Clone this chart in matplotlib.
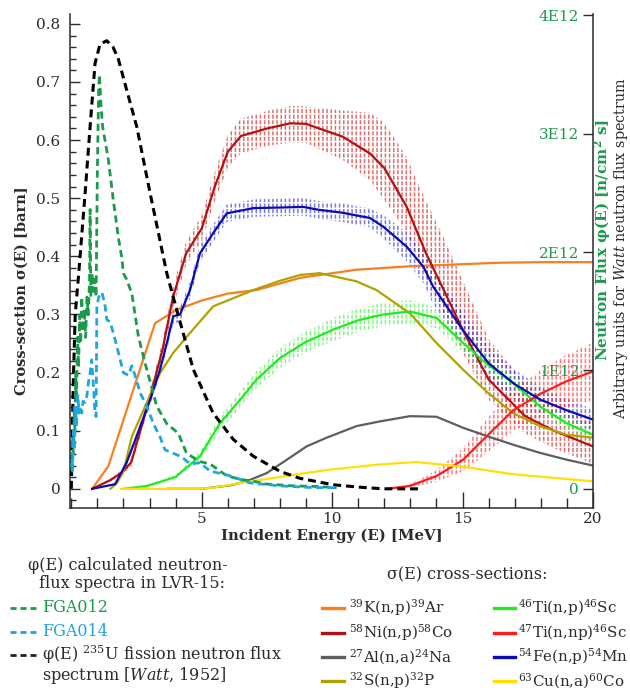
import matplotlib
matplotlib.use("Agg")
from matplotlib import pyplot as plt
from matplotlib.lines import Line2D
from matplotlib.ticker import MultipleLocator, FixedLocator

plt.rcParams["font.family"] = ["DejaVu Serif"]
plt.rcParams["mathtext.fontset"] = "dejavuserif"
plt.rcParams["hatch.linewidth"] = 1.1

# ---- cross-sections [barn] vs incident energy [MeV] ----
k39_e = [0.8, 1.42, 3.21, 4.04, 5.0, 6.0, 7.1, 8.77, 10.93, 13.0, 16.4, 18.0, 20.0]
k39_s = [0.0, 0.039, 0.285, 0.308, 0.324, 0.336, 0.342, 0.363, 0.377, 0.383, 0.389, 0.39, 0.39]

ni58_e = [0.8, 1.5, 2.0, 2.3, 3.0, 3.5, 3.9, 4.4, 5.0, 5.5, 6.0, 6.5, 7.5, 8.4, 9.0, 9.5,
          10.4, 11.45, 12.0, 12.85, 13.6, 14.3, 15.0, 16.0, 17.4, 18.5, 20.0]
ni58_s = [0.0, 0.015, 0.03, 0.046, 0.155, 0.24, 0.33, 0.405, 0.448, 0.52, 0.58, 0.607, 0.62,
          0.629, 0.628, 0.62, 0.606, 0.577, 0.552, 0.486, 0.405, 0.34, 0.274, 0.188, 0.125, 0.10, 0.073]
ni58_hi = [0.0, 0.018, 0.035, 0.054, 0.167, 0.255, 0.348, 0.425, 0.47, 0.545, 0.608, 0.637, 0.65,
           0.659, 0.658, 0.655, 0.651, 0.647, 0.63, 0.571, 0.495, 0.43, 0.359, 0.258, 0.18, 0.145, 0.113]
ni58_lo = [0.0, 0.012, 0.025, 0.038, 0.143, 0.225, 0.312, 0.385, 0.426, 0.495, 0.552, 0.577, 0.59,
           0.596, 0.595, 0.585, 0.566, 0.531, 0.497, 0.441, 0.365, 0.30, 0.234, 0.153, 0.095, 0.07, 0.043]

al27_e = [3.7, 5.0, 6.09, 6.72, 7.49, 8.26, 9.02, 9.79, 10.94, 11.83, 12.98, 14.0, 15.02, 15.98,
          17.0, 17.96, 19.0, 20.0]
al27_s = [0.0, 0.0, 0.006, 0.013, 0.027, 0.05, 0.073, 0.088, 0.108, 0.116, 0.125, 0.124, 0.105,
          0.09, 0.075, 0.062, 0.05, 0.04]

s32_e = [1.5, 1.75, 2.0, 2.32, 2.89, 3.4, 3.91, 4.49, 5.44, 6.98, 8.0, 8.77, 9.53, 10.93, 11.7,
         12.98, 14.0, 15.02, 15.98, 16.94, 17.96, 18.98, 20.0]
s32_s = [0.0, 0.01, 0.03, 0.09, 0.148, 0.199, 0.234, 0.265, 0.314, 0.342, 0.358, 0.368, 0.371,
         0.357, 0.342, 0.302, 0.251, 0.205, 0.165, 0.13, 0.108, 0.093, 0.088]

ti46_e = [2.0, 2.9, 3.98, 4.93, 5.7, 6.47, 7.1, 8.0, 8.96, 10.04, 11.0, 11.96, 12.98, 14.0,
          15.02, 15.9, 16.94, 17.96, 18.98, 20.0]
ti46_s = [0.0, 0.005, 0.02, 0.056, 0.113, 0.153, 0.188, 0.225, 0.252, 0.274, 0.29, 0.30, 0.305,
          0.294, 0.251, 0.216, 0.182, 0.142, 0.113, 0.093]
ti46_err = [0.0, 0.002, 0.004, 0.008, 0.012, 0.014, 0.015, 0.017, 0.018, 0.02, 0.02, 0.02, 0.02,
            0.018, 0.016, 0.014, 0.013, 0.012, 0.011, 0.01]

ti47_e = [12.09, 12.98, 14.0, 15.02, 15.98, 16.94, 17.96, 18.98, 20.0]
ti47_s = [0.0, 0.005, 0.022, 0.05, 0.093, 0.135, 0.163, 0.185, 0.202]
ti47_err = [0.0, 0.003, 0.01, 0.02, 0.03, 0.035, 0.04, 0.045, 0.05]

fe54_e = [0.8, 1.68, 2.12, 2.5, 3.02, 3.4, 3.66, 3.91, 4.17, 4.55, 4.93, 5.44, 5.96, 6.98, 8.0,
          8.9, 9.5, 10.4, 11.45, 11.96, 12.85, 13.5, 13.87, 15.0, 16.0, 17.0, 18.0, 19.0, 20.0]
fe54_s = [0.0, 0.008, 0.045, 0.09, 0.153, 0.205, 0.25, 0.297, 0.30, 0.342, 0.405, 0.44, 0.474,
          0.483, 0.484, 0.485, 0.48, 0.475, 0.466, 0.451, 0.417, 0.382, 0.348, 0.274, 0.216, 0.18,
          0.153, 0.135, 0.119]
fe54_err = [0.0, 0.002, 0.005, 0.007, 0.009, 0.01, 0.012, 0.013, 0.013, 0.014, 0.015, 0.015,
            0.015, 0.015, 0.015, 0.015, 0.015, 0.016, 0.016, 0.02, 0.025, 0.028, 0.03, 0.03,
            0.028, 0.025, 0.022, 0.02, 0.018]

cu63_e = [1.9, 4.93, 5.44, 6.47, 7.36, 8.64, 9.92, 11.83, 13.24, 15.02, 16.94, 20.0]
cu63_s = [0.0, 0.0, 0.002, 0.01, 0.016, 0.025, 0.033, 0.042, 0.046, 0.038, 0.025, 0.013]

# ---- Watt 235U fission spectrum (arbitrary units, left scale) ----
watt_e = [0.0, 0.04, 0.08, 0.15, 0.27, 0.53, 0.72, 0.91, 1.1, 1.36, 1.6, 1.8, 2.1, 2.51, 3.02,
          3.66, 4.04, 4.68, 5.44, 6.21, 6.98, 8.0, 8.77, 10.04, 11.0, 11.96, 13.47]
watt_s = [0.0, 0.1, 0.19, 0.3, 0.363, 0.509, 0.623, 0.732, 0.765, 0.771, 0.76, 0.74, 0.69, 0.623,
          0.509, 0.371, 0.308, 0.205, 0.13, 0.085, 0.056, 0.03, 0.018, 0.007, 0.003, 0.0, 0.0]

# ---- calculated neutron flux spectra [1E12 n/cm2 s] ----
fga012_e = [0.02, 0.05, 0.08, 0.11, 0.14, 0.17, 0.2, 0.24, 0.28, 0.32, 0.36, 0.4, 0.45, 0.5,
            0.55, 0.6, 0.65, 0.7, 0.72, 0.75, 0.8, 0.85, 0.9, 0.95, 1.0, 1.05, 1.08, 1.14, 1.2,
            1.42, 1.61, 1.8, 1.93, 2.0, 2.12, 2.32, 2.57, 2.83, 3.08, 3.27, 3.66, 4.1, 4.42,
            4.93, 5.32, 5.96, 6.47, 6.98, 7.49, 8.5, 9.4, 10.17]
fga012_f = [0.15, 0.44, 0.29, 0.69, 0.49, 0.98, 0.79, 1.28, 1.03, 1.47, 1.23, 1.62, 1.33, 1.52,
            1.28, 1.62, 1.47, 1.77, 2.36, 1.62, 1.82, 1.67, 1.77, 1.62, 2.70, 3.39, 3.50, 3.23,
            3.06, 2.78, 2.44, 2.13, 1.96, 1.82, 1.77, 1.65, 1.29, 1.06, 0.86, 0.70, 0.55, 0.47,
            0.30, 0.23, 0.21, 0.11, 0.08, 0.064, 0.04, 0.025, 0.02, 0.01]

fga014_e = [0.02, 0.05, 0.08, 0.12, 0.16, 0.2, 0.25, 0.3, 0.34, 0.4, 0.45, 0.53, 0.6, 0.65, 0.72,
            0.78, 0.85, 0.91, 0.95, 0.98, 1.05, 1.17, 1.28, 1.36, 1.49, 1.68, 2.0, 2.19, 2.32,
            2.44, 2.64, 2.89, 3.15, 3.4, 3.59, 3.91, 4.23, 4.55, 4.93, 5.32, 6.09, 6.85, 8.0,
            9.28, 10.17]
fga014_f = [0.25, 0.15, 0.49, 0.34, 0.69, 0.54, 0.79, 0.64, 0.70, 0.64, 0.74, 0.73, 0.79, 0.89,
            0.98, 1.09, 0.86, 0.64, 0.61, 1.54, 1.62, 1.66, 1.57, 1.43, 1.41, 1.26, 0.98, 0.96,
            1.04, 0.96, 0.81, 0.70, 0.55, 0.44, 0.33, 0.30, 0.27, 0.21, 0.22, 0.15, 0.11, 0.05,
            0.025, 0.01, 0.01]

flux_ticks = [0, 1, 2, 3, 4]
flux_tick_labels = ["0", "1E12", "2E12", "3E12", "4E12"]

GREEN = "#1c9a4c"
LBLUE = "#1ea6e0"
TXT = "#2b2b2b"

xs_series = [
    (k39_e, k39_s, "#f4801f", r"$^{39}$K(n,p)$^{39}$Ar"),
    (ni58_e, ni58_s, "#b01212", r"$^{58}$Ni(n,p)$^{58}$Co"),
    (al27_e, al27_s, "#5e5e5e", r"$^{27}$Al(n,a)$^{24}$Na"),
    (s32_e, s32_s, "#b0a200", r"$^{32}$S(n,p)$^{32}$P"),
    (ti46_e, ti46_s, "#22ea22", r"$^{46}$Ti(n,p)$^{46}$Sc"),
    (ti47_e, ti47_s, "#ff1c1c", r"$^{47}$Ti(n,np)$^{46}$Sc"),
    (fe54_e, fe54_s, "#0b0bb0", r"$^{54}$Fe(n,p)$^{54}$Mn"),
    (cu63_e, cu63_s, "#ffe000", r"$^{63}$Cu(n,a)$^{60}$Co"),
]

fig = plt.figure(figsize=(6.3, 6.92), dpi=100)
ax = fig.add_axes([70 / 630, 1 - 508 / 692, 523 / 630, 494 / 692])
ax2 = ax.twinx()


# uncertainty bands: vertical hatch broken into dots by a white horizontal hatch on top
def band(e, lo, hi, color):
    ax.fill_between(e, lo, hi, facecolor="none", edgecolor=color, hatch="||||",
                    linewidth=0, alpha=0.6, zorder=1)
    ax.fill_between(e, lo, hi, facecolor="none", edgecolor="white", hatch="---",
                    linewidth=0, zorder=1.5)


band(ni58_e, ni58_lo, ni58_hi, "#c81010")
band(fe54_e, [s - d for s, d in zip(fe54_s, fe54_err)],
     [s + d for s, d in zip(fe54_s, fe54_err)], "#2020d0")
band(ti46_e, [s - d for s, d in zip(ti46_s, ti46_err)],
     [s + d for s, d in zip(ti46_s, ti46_err)], "#30f030")
band(ti47_e, [s - d for s, d in zip(ti47_s, ti47_err)],
     [s + d for s, d in zip(ti47_s, ti47_err)], "#ff2020")

for e, s, c, lab in xs_series:
    ax.plot(e, s, color=c, lw=1.6, zorder=3)

ax.plot(watt_e, watt_s, color="black", lw=2.2, ls=(0, (2.6, 1.6)), zorder=4)
ax2.plot(fga012_e, fga012_f, color=GREEN, lw=2.0, ls=(0, (2.6, 1.6)))
ax2.plot(fga014_e, fga014_f, color=LBLUE, lw=2.0, ls=(0, (2.6, 1.6)))

ax.set_xlim(-0.05, 20)
ax.set_ylim(-0.033, 0.817)
ax2.set_ylim(-0.033 * 4.91, 0.817 * 4.91)

ax.xaxis.set_major_locator(FixedLocator([5, 10, 15, 20]))
ax.xaxis.set_minor_locator(MultipleLocator(1))
ax.yaxis.set_minor_locator(MultipleLocator(0.02))
ax.set_yticks([0, 0.1, 0.2, 0.3, 0.4, 0.5, 0.6, 0.7, 0.8])
ax.set_yticklabels(["0", "0.1", "0.2", "0.3", "0.4", "0.5", "0.6", "0.7", "0.8"])

ax.tick_params(axis="x", which="major", direction="in", length=11.5, width=1, labelsize=11,
               colors=TXT, pad=3)
ax.tick_params(axis="x", which="minor", direction="in", length=7, width=1, colors=TXT)
ax.tick_params(axis="y", which="major", direction="in", length=7, width=1, labelsize=11,
               colors=TXT, pad=7)
ax.tick_params(axis="y", which="minor", direction="in", length=4, width=1, colors=TXT)

ax2.yaxis.set_major_locator(FixedLocator(flux_ticks))
ax2.set_yticklabels(flux_tick_labels)
ax2.tick_params(axis="y", direction="in", length=7, width=1, labelsize=11, pad=-10,
                colors=TXT, labelcolor=GREEN)
for lbl in ax2.get_yticklabels():
    lbl.set_horizontalalignment("right")

for sp in ["top", "right"]:
    ax.spines[sp].set_visible(False)
for sp in ["top", "left", "bottom"]:
    ax2.spines[sp].set_visible(False)
for sp in [ax.spines["left"], ax.spines["bottom"], ax2.spines["right"]]:
    sp.set_color(TXT)
    sp.set_linewidth(1.1)

ax.set_xlabel("Incident Energy (E) [MeV]", fontsize=10.7, fontweight="bold", color=TXT,
              labelpad=2)
ax.set_ylabel("Cross-section σ(E) [barn]", fontsize=10.5, fontweight="bold", color=TXT)
ax.yaxis.set_label_coords(-0.08, 0.44)

ax2.text(1.019, 0.543, r"Neutron Flux φ(E) [n/cm$^{\mathbf{2}}$ s]", transform=ax2.transAxes,
         rotation=90, ha="center", va="center", fontsize=11, fontweight="bold", color=GREEN)
ax2.text(1.0535, 0.526, r"Arbitrary units for $\it{Watt}$ neutron flux spectrum",
         transform=ax2.transAxes, rotation=90, ha="center", va="center", fontsize=10.4,
         color=TXT)

# ---- legends below the plot ----
def fx(px):
    return px / 630


def fy(py):
    return 1 - py / 692


fig.text(fx(28), fy(565), "φ(E) calculated neutron-", fontsize=11.5, color=TXT, va="center")
fig.text(fx(39), fy(584), "flux spectra in LVR-15:", fontsize=11.5, color=TXT, va="center")

flux_legend = [
    (GREEN, "FGA012", GREEN, 608),
    (LBLUE, "FGA014", LBLUE, 632),
    ("#222222", r"φ(E) $^{235}$U fission neutron flux", TXT, 655),
]
for lc, lab, tc, py in flux_legend:
    fig.add_artist(Line2D([fx(10), fx(36)], [fy(py), fy(py)], color=lc, lw=2.0,
                          ls=(0, (2.2, 1.4))))
    fig.text(fx(42), fy(py), lab, fontsize=11.5, color=tc, va="center")
fig.text(fx(42), fy(676), r"spectrum [$\it{Watt}$, 1952]", fontsize=11.5, color=TXT,
         va="center")

fig.text(fx(467), fy(575), "σ(E) cross-sections:", fontsize=11.5, color=TXT, ha="center",
         va="center")
rows = [608, 633, 657, 681]
for i, (e, s, c, lab) in enumerate(xs_series):
    col, row = divmod(i, 4)
    x0, x1, xt = [(322, 344, 349), (494, 515, 518)][col]
    py = rows[row]
    fig.add_artist(Line2D([fx(x0), fx(x1)], [fy(py), fy(py)], color=c, lw=2.4))
    fig.text(fx(xt), fy(py), lab, fontsize=10.9, color=TXT, va="center")

fig.savefig("out.png", dpi=100)
